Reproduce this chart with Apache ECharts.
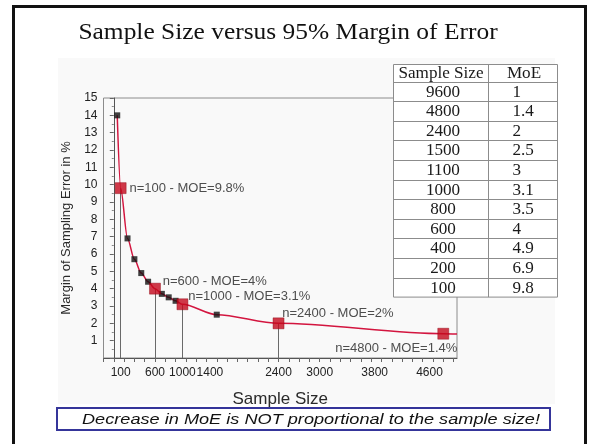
<!DOCTYPE html>
<html>
<head>
    <meta charset="utf-8">
    <title>Sample Size versus 95% Margin of Error</title>
    <script src="https://cdn.jsdelivr.net/npm/echarts@6.0.0/dist/echarts.min.js"></script>
    <style type="text/css">
        html, body {
            margin: 0;
            padding: 0;
            background: #ffffff;
        }
        #chart {
            width: 599px;
            height: 444px;
        }
    </style>
</head>
<body>
<div id="chart"></div>
<script>
    // curve through the read points (last point is where the line stops)
    var curveN = [50, 100, 200, 300, 400, 500, 600, 700, 800, 900, 1000, 1500, 2400, 4800, 5000];
    var curveMoe = [14, 9.8, 6.9, 5.7, 4.9, 4.4, 4, 3.7, 3.5, 3.3, 3.1, 2.5, 2, 1.4, 1.38];

    // small black markers
    var dotN = [50, 200, 300, 400, 500, 700, 800, 900, 1500];
    var dotMoe = [14, 6.9, 5.7, 4.9, 4.4, 3.7, 3.5, 3.3, 2.5];

    // big red markers with labels
    var keyN = [100, 600, 1000, 2400, 4800];
    var keyMoe = [9.8, 4, 3.1, 2, 1.4];
    var dropN = [100, 600, 1000, 2400];

    // x axis tick labels
    var xLabels = [100, 600, 1000, 1400, 2400, 3000, 3800, 4600];

    // the table on the right
    var tableN = [9600, 4800, 2400, 1500, 1100, 1000, 800, 600, 400, 200, 100];
    var tableMoe = ['1', '1.4', '2', '2.5', '3', '3.1', '3.5', '4', '4.9', '6.9', '9.8'];

    var sans = 'Liberation Sans, Arial, sans-serif';
    var serif = 'Liberation Serif, Times New Roman, serif';

    var xTicks = [];
    for (var t = -150; t <= 5000; t += 150) {
        xTicks.push(t);
    }

    function pairs(xs, ys) {
        return xs.map(function (x, i) {
            return [x, ys[i]];
        });
    }

    // label placement for each red marker
    var keyLabel = [
        {position: 'right', offset: [-2, 0]},
        {position: 'right', offset: [-3, -7]},
        {position: 'right', offset: [-5, -8]},
        {position: 'right', offset: [-7, -10]},
        {position: 'bottom', offset: [-47, -3]}
    ];

    var keyData = keyN.map(function (n, i) {
        return {
            value: [n, keyMoe[i]],
            label: {
                show: true,
                position: keyLabel[i].position,
                offset: keyLabel[i].offset,
                formatter: 'n=' + n + ' - MOE=' + keyMoe[i] + '%'
            }
        };
    });

    var dropLines = dropN.map(function (n) {
        var v = keyMoe[keyN.indexOf(n)];
        return [{coord: [n, 0]}, {coord: [n, v]}];
    });

    // table graphic
    var tb = {left: 393.5, mid: 488.5, right: 557.5, top: 64.5, head: 17, row: 19.6};
    var tableEls = [];
    var tbBottom = tb.top + tb.head + tb.row * tableN.length;
    var cellFont = '16px ' + serif;
    var cellScale = 1.07;
    tableEls.push({
        type: 'rect',
        shape: {x: tb.left, y: tb.top, width: tb.right - tb.left, height: tbBottom - tb.top},
        style: {fill: '#ffffff', stroke: '#8c8c8c', lineWidth: 1}
    });
    tableEls.push({
        type: 'line',
        shape: {x1: tb.mid, y1: tb.top, x2: tb.mid, y2: tbBottom},
        style: {stroke: '#8c8c8c', lineWidth: 1}
    });
    tableEls.push({
        type: 'text', x: (tb.left + tb.mid) / 2, y: tb.top + tb.head / 2 + 1, scaleX: cellScale,
        style: {text: 'Sample Size', font: cellFont, fill: '#1a1a1a', align: 'center', verticalAlign: 'middle'}
    });
    tableEls.push({
        type: 'text', x: (tb.mid + tb.right) / 2 + 1, y: tb.top + tb.head / 2 + 1, scaleX: cellScale,
        style: {text: 'MoE', font: cellFont, fill: '#1a1a1a', align: 'center', verticalAlign: 'middle'}
    });
    tableN.forEach(function (n, i) {
        var y0 = tb.top + tb.head + tb.row * i;
        tableEls.push({
            type: 'line',
            shape: {x1: tb.left, y1: Math.round(y0) + 0.5, x2: tb.right, y2: Math.round(y0) + 0.5},
            style: {stroke: '#8c8c8c', lineWidth: 1}
        });
        tableEls.push({
            type: 'text', x: (tb.left + tb.mid) / 2 + 2, y: y0 + tb.row / 2 + 1, scaleX: cellScale,
            style: {text: String(n), font: cellFont, fill: '#1a1a1a', align: 'center', verticalAlign: 'middle'}
        });
        tableEls.push({
            type: 'text', x: tb.mid + 24, y: y0 + tb.row / 2 + 1, scaleX: cellScale,
            style: {text: tableMoe[i], font: cellFont, fill: '#1a1a1a', align: 'left', verticalAlign: 'middle'}
        });
    });

    var chart = echarts.init(document.getElementById('chart'));

    var option = {
        backgroundColor: '#ffffff',
        animation: false,
        grid: {
            left: 103.5,
            right: 142,
            top: 98,
            bottom: 86,
            show: true,
            borderColor: '#8c8c8c',
            borderWidth: 1,
            backgroundColor: 'transparent'
        },
        xAxis: {
            type: 'value',
            min: -150,
            max: 5000,
            name: 'Sample Size',
            nameLocation: 'middle',
            nameGap: 33,
            nameTextStyle: {fontFamily: sans, fontSize: 17, color: '#2a2a2a'},
            axisLine: {show: true, lineStyle: {color: '#555', width: 1}},
            axisTick: {show: true, customValues: xTicks, length: 4, lineStyle: {color: '#666'}},
            axisLabel: {
                customValues: xLabels,
                formatter: function (v) {
                    return String(v);
                },
                fontFamily: sans,
                fontSize: 12,
                color: '#222',
                margin: 9
            },
            splitLine: {show: false}
        },
        yAxis: {
            type: 'value',
            min: 0,
            max: 15,
            interval: 1,
            name: 'Margin of Sampling Error in %',
            nameLocation: 'middle',
            nameGap: 21,
            nameTextStyle: {fontFamily: sans, fontSize: 13, color: '#2a2a2a'},
            axisLine: {show: true, lineStyle: {color: '#555', width: 1}},
            axisTick: {show: true, length: 4, lineStyle: {color: '#666'}},
            minorTick: {show: true, splitNumber: 2, length: 2, lineStyle: {color: '#888'}},
            axisLabel: {
                showMinLabel: false,
                fontFamily: sans,
                fontSize: 12,
                color: '#222',
                margin: 6
            },
            splitLine: {show: false}
        },
        series: [
            {
                name: 'curve',
                type: 'line',
                data: pairs(curveN, curveMoe),
                smooth: 0.3,
                smoothMonotone: 'x',
                showSymbol: false,
                lineStyle: {color: '#d3153f', width: 1.5},
                z: 2
            },
            {
                name: 'points',
                type: 'scatter',
                data: pairs(dotN, dotMoe),
                symbol: 'rect',
                symbolSize: 6,
                itemStyle: {color: '#111'},
                z: 3
            },
            {
                name: 'key',
                type: 'scatter',
                data: keyData,
                symbol: 'rect',
                symbolSize: 11,
                itemStyle: {color: '#c4081b', borderColor: '#8a0010', borderWidth: 0.5},
                label: {
                    fontFamily: sans,
                    fontSize: 13,
                    color: '#222'
                },
                markLine: {
                    silent: true,
                    symbol: 'none',
                    label: {show: false},
                    lineStyle: {color: '#6a6a6a', width: 1, type: 'solid'},
                    data: dropLines,
                    z: 1
                },
                z: 4
            }
        ],
        graphic: [
            {
                type: 'rect',
                z: -10,
                shape: {x: 58, y: 58, width: 497, height: 346},
                style: {fill: '#f9f9f9'}
            },
            {
                type: 'rect',
                z: 100,
                shape: {x: 13.5, y: 6.5, width: 572, height: 460},
                style: {fill: 'none', stroke: '#111', lineWidth: 3}
            },
            {
                type: 'text',
                z: 100,
                x: 288,
                y: 33,
                scaleX: 1.06,
                style: {
                    text: 'Sample Size versus 95% Margin of Error',
                    font: '24px ' + serif,
                    fill: '#111',
                    align: 'center',
                    verticalAlign: 'middle'
                }
            },
            {
                type: 'group',
                z: 50,
                children: tableEls
            },
            {
                type: 'rect',
                z: 100,
                shape: {x: 57, y: 408, width: 493, height: 22},
                style: {fill: '#ffffff', stroke: '#35359a', lineWidth: 2}
            },
            {
                type: 'text',
                z: 101,
                x: 311,
                y: 419.5,
                scaleX: 1.21,
                style: {
                    text: 'Decrease in MoE is NOT proportional to the sample size!',
                    font: 'italic 15px ' + sans,
                    fill: '#111',
                    align: 'center',
                    verticalAlign: 'middle'
                }
            }
        ]
    };
    chart.setOption(option);
</script>
</body>
</html>
